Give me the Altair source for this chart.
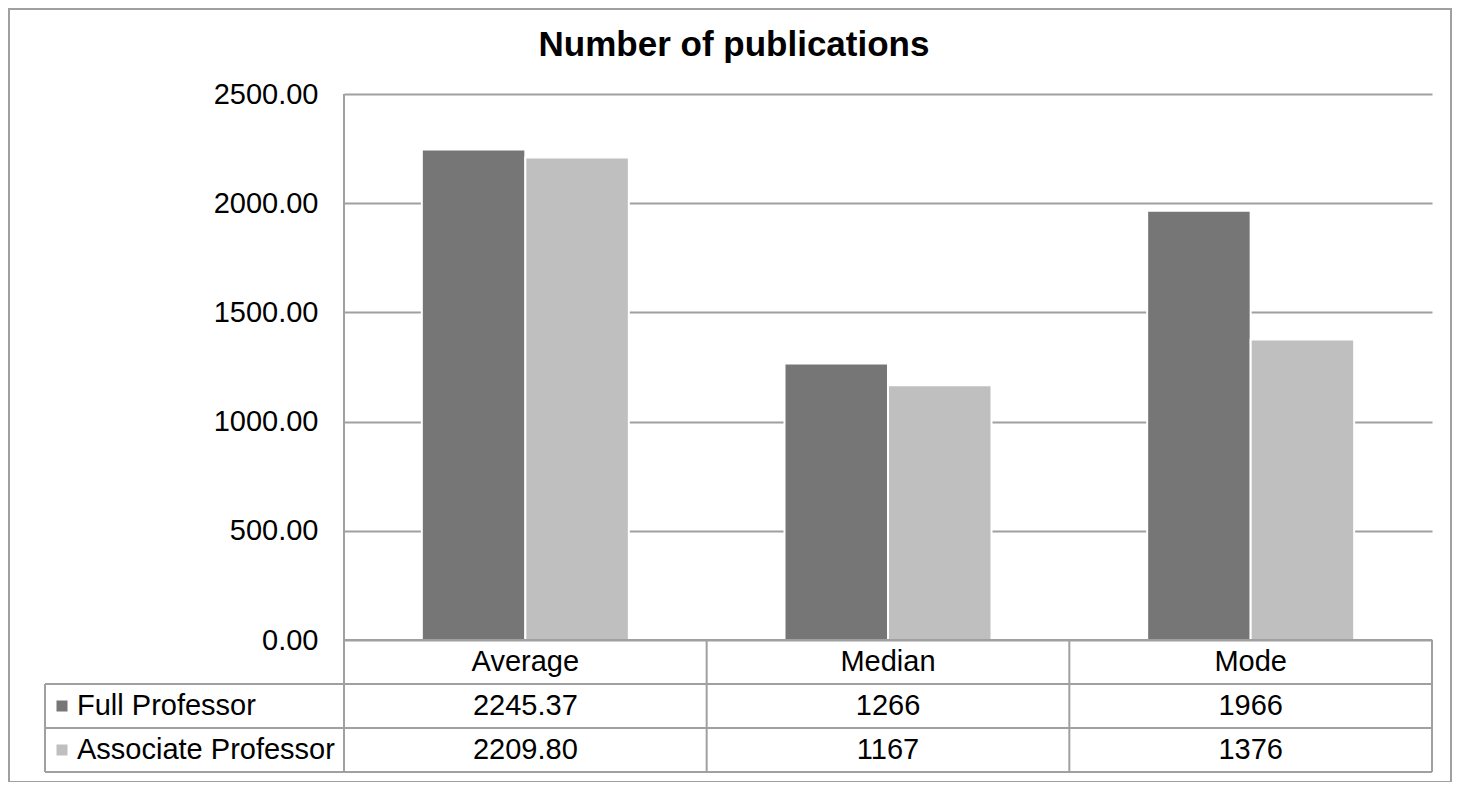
import altair as alt
import pandas as pd

# ---- data ----
categories = ["Average", "Median", "Mode"]
series_names = ["Full Professor", "Associate Professor"]
full_values = [2245.37, 1266, 1966]
assoc_values = [2209.80, 1167, 1376]
full_labels = ["2245.37", "1266", "1966"]
assoc_labels = ["2209.80", "1167", "1376"]
y_ticks = [0, 500, 1000, 1500, 2000, 2500]
title_text = "Number of publications"

# ---- styling / layout ----
colors = ["#767676", "#bfbfbf"]
FONT = "Liberation Sans"
GRID = "#a0a0a0"
W, H = 1088, 546
ROW = 44
LEG = 299
FS = 29

bars_df = pd.DataFrame({
    "category": categories * 2,
    "series": [series_names[0]] * 3 + [series_names[1]] * 3,
    "value": full_values + assoc_values,
})

table_rows = ["header"] + series_names
table_df = pd.DataFrame({
    "category": categories * 3,
    "row": ["header"] * 3 + [series_names[0]] * 3 + [series_names[1]] * 3,
    "label": categories + full_labels + assoc_labels,
})
legend_df = pd.DataFrame({"series": series_names})
title_df = pd.DataFrame({"title": [title_text]})

xscale = alt.Scale(domain=categories, paddingInner=0, paddingOuter=0)
color_scale = alt.Scale(domain=series_names, range=colors)
row_scale = alt.Scale(domain=table_rows, range=[H, H + 3 * ROW], paddingInner=0, paddingOuter=0)
offset_scale = alt.Scale(domain=series_names, paddingInner=0, paddingOuter=0.752)
yscale = alt.Scale(domain=[0, 2500], nice=False)

yaxis = alt.Axis(values=y_ticks, format=".2f", labelFontSize=FS, labelFont=FONT,
                 labelColor="black", labelPadding=26, ticks=False, tickSize=0,
                 domain=False, grid=True, gridColor=GRID, gridWidth=2, title=None)

shadow = alt.Chart(bars_df).mark_bar(color="#ececec", xOffset=3).encode(
    x=alt.X("category:N", scale=xscale, axis=None, sort=categories),
    xOffset=alt.XOffset("series:N", sort=series_names, scale=offset_scale),
    y=alt.Y("value:Q", scale=yscale, axis=yaxis),
)

bars = alt.Chart(bars_df).mark_bar(stroke="white", strokeWidth=2).encode(
    x=alt.X("category:N", scale=xscale, axis=None, sort=categories),
    xOffset=alt.XOffset("series:N", sort=series_names, scale=offset_scale),
    y=alt.Y("value:Q", scale=yscale, axis=yaxis),
    color=alt.Color("series:N", scale=color_scale, legend=None),
)

bar_layer = alt.layer(shadow, bars)

cell_text = alt.Chart(table_df).mark_text(font=FONT, fontSize=FS, color="black").encode(
    x=alt.X("category:N", scale=xscale, axis=None, sort=categories),
    y=alt.Y("row:N", scale=row_scale, axis=None),
    text="label:N",
)

legend_text = alt.Chart(legend_df).mark_text(font=FONT, fontSize=FS, color="black", align="left").encode(
    x=alt.value(-LEG + 32),
    y=alt.Y("series:N", scale=row_scale, axis=None),
    text="series:N",
)

legend_sq = alt.Chart(legend_df).mark_square(size=121, opacity=1).encode(
    x=alt.value(-LEG + 17),
    y=alt.Y("series:N", scale=row_scale, axis=None),
    color=alt.Color("series:N", scale=color_scale, legend=None),
)

title_mark = alt.Chart(title_df).mark_text(font=FONT, fontSize=35, fontWeight="bold",
                                           color="black", align="center", baseline="alphabetic").encode(
    x=alt.value(390), y=alt.value(-38), text="title:N")

one = alt.Data(values=[{"k": 1}])
lines = []
for yv, x1 in [(H, 0), (H + ROW, -LEG), (H + 2 * ROW, -LEG), (H + 3 * ROW, -LEG)]:
    lines.append(alt.Chart(one).mark_rule(color=GRID, strokeWidth=2).encode(
        x=alt.value(x1), x2=alt.value(W), y=alt.value(yv)))
for xv, y1 in [(-LEG, H + ROW), (0, 0), (W / 3, H), (2 * W / 3, H), (W, H)]:
    lines.append(alt.Chart(one).mark_rule(color=GRID, strokeWidth=2).encode(
        x=alt.value(xv), y=alt.value(y1), y2=alt.value(H + 3 * ROW)))

border = alt.Chart(one).mark_rect(fillOpacity=0, stroke=GRID, strokeWidth=2).encode(
    x=alt.value(-335), x2=alt.value(1107), y=alt.value(-85), y2=alt.value(688))

chart = alt.layer(bar_layer, *lines, cell_text, legend_text, legend_sq, title_mark, border).resolve_scale(
    y="independent"
).properties(
    width=W, height=H,
    autosize=alt.AutoSizeParams(type="none"),
    padding={"left": 336, "top": 86, "right": 20, "bottom": 142},
).configure_view(stroke=None)

chart.save("out.html", embed_options={"renderer": "svg", "actions": False})
